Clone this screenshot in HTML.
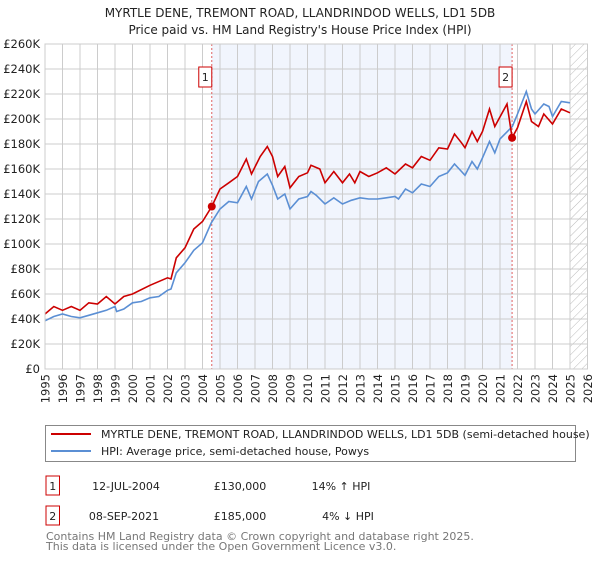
<!DOCTYPE html>
<html><head><meta charset="utf-8"><style>
body{margin:0;background:#fff;font-family:"DejaVu Sans","Liberation Sans",sans-serif;}
svg text{font-family:"DejaVu Sans","Liberation Sans",sans-serif;}
</style></head><body>
<svg id="c" width="600" height="560" viewBox="0 0 600 560">
<defs><pattern id="hatch" width="6" height="6" patternUnits="userSpaceOnUse" patternTransform="rotate(45)"><line x1="0" y1="0" x2="0" y2="6" stroke="#bbb" stroke-width="1"/></pattern></defs>
<text x="300" y="17" text-anchor="middle" font-size="12" fill="#222">MYRTLE DENE, TREMONT ROAD, LLANDRINDOD WELLS, LD1 5DB</text>
<text x="300" y="34" text-anchor="middle" font-size="12" fill="#222">Price paid vs. HM Land Registry's House Price Index (HPI)</text>
<g id="plot"></g>
<rect x="45.5" y="425.5" width="530" height="36" fill="#fff" stroke="#888"/>
<line x1="51" y1="434" x2="91" y2="434" stroke="#cc0000" stroke-width="2"/>
<text x="101" y="438" font-size="11" fill="#222">MYRTLE DENE, TREMONT ROAD, LLANDRINDOD WELLS, LD1 5DB (semi-detached house)</text>
<line x1="51" y1="451" x2="91" y2="451" stroke="#5b8fd4" stroke-width="2"/>
<text x="101" y="455" font-size="11" fill="#222">HPI: Average price, semi-detached house, Powys</text>
<g>
<rect x="46" y="476" width="13.5" height="19" fill="#fff" stroke="#cc0000"/>
<text x="52.7" y="490" text-anchor="middle" font-size="11" fill="#222">1</text>
<text x="126" y="490" text-anchor="middle" font-size="11" fill="#222">12-JUL-2004</text>
<text x="240" y="490" text-anchor="middle" font-size="11" fill="#222">£130,000</text>
<text x="341" y="490" text-anchor="middle" font-size="11" fill="#222">14% ↑ HPI</text></g>
<g>
<rect x="46" y="506" width="13.5" height="19" fill="#fff" stroke="#cc0000"/>
<text x="52.7" y="520" text-anchor="middle" font-size="11" fill="#222">2</text>
<text x="124" y="520" text-anchor="middle" font-size="11" fill="#222">08-SEP-2021</text>
<text x="240" y="520" text-anchor="middle" font-size="11" fill="#222">£185,000</text>
<text x="348" y="520" text-anchor="middle" font-size="11" fill="#222">4% ↓ HPI</text></g>
<text x="46" y="540" font-size="11" fill="#777">Contains HM Land Registry data © Crown copyright and database right 2025.</text>
<text x="46" y="550" font-size="11" fill="#777">This data is licensed under the Open Government Licence v3.0.</text>
</svg>
<script>
const yTicks=[0,20,40,60,80,100,120,140,160,180,200,220,240,260];
const xYears=[1995,1996,1997,1998,1999,2000,2001,2002,2003,2004,2005,2006,2007,2008,2009,2010,2011,2012,2013,2014,2015,2016,2017,2018,2019,2020,2021,2022,2023,2024,2025,2026];
const hpiT=[1995,1995.5,1996,1996.5,1997,1997.5,1998,1998.5,1999,1999.1,1999.5,2000,2000.5,2001,2001.5,2002,2002.2,2002.5,2003,2003.5,2004,2004.5,2005,2005.5,2006,2006.5,2006.8,2007.2,2007.7,2008,2008.3,2008.7,2009,2009.5,2010,2010.2,2010.5,2011,2011.5,2012,2012.5,2013,2013.5,2014,2014.5,2015,2015.2,2015.6,2016,2016.5,2017,2017.5,2018,2018.4,2018.8,2019,2019.4,2019.7,2020,2020.4,2020.7,2021,2021.7,2022,2022.5,2022.8,2023,2023.5,2023.8,2024,2024.5,2025];
const hpiV=[38.6,42,44,42,41,43,45,47,50,46,48,53,54,57,58,63,64,77,85,95,101,117,128,134,133,146,136,150,156,147,136,140,128,136,138,142,139,132,137,132,135,137,136,136,137,138,136,144,141,148,146,154,157,164,158,155,166,160,169,182,173,184,194,204,222,208,204,212,210,202,214,213];
const ppT=[1995,1995.5,1996,1996.5,1997,1997.5,1998,1998.5,1999,1999.5,2000,2001,2002,2002.2,2002.5,2003,2003.5,2004,2004.53,2005,2005.5,2006,2006.5,2006.8,2007.3,2007.7,2008,2008.3,2008.7,2009,2009.5,2010,2010.2,2010.7,2011,2011.5,2012,2012.4,2012.7,2013,2013.5,2014,2014.5,2015,2015.6,2016,2016.5,2017,2017.5,2018,2018.4,2018.8,2019,2019.4,2019.7,2020,2020.4,2020.7,2021.4,2021.69,2022,2022.5,2022.8,2023.2,2023.5,2024,2024.5,2025];
const ppV=[44,50,47,50,47,53,52,58,52,58,60,67,73,72,89,97,112,118,130,144,149,154,168,156,170,178,170,154,162,145,154,157,163,160,149,158,149,156,149,158,154,157,161,156,164,161,170,167,177,176,188,181,177,190,182,190,208,194,212,185,193,214,198,194,204,196,208,205];
const sales=[[2004.53,130,"1"],[2021.69,185,"2"]];
const X=y=>45+(y-1995)*17.5, Y=v=>369-v*1.25;
const ns="http://www.w3.org/2000/svg",g=document.getElementById('plot');
function mk(t,a,p){const e=document.createElementNS(ns,t);for(const k in a)e.setAttribute(k,a[k]);(p||g).appendChild(e);return e;}
let sh=mk('rect',{x:X(2004.53),y:44,width:X(2021.69)-X(2004.53),height:325,fill:'#eef3fc',opacity:0.8});


let ht=mk('rect',{x:X(2025),y:44,width:X(2026)-X(2025),height:325,fill:'url(#hatch)'});


yTicks.forEach(v=>{let l=mk('line',{x1:45,x2:X(2026),y1:Y(v),y2:Y(v),stroke:'#ccc'});


let t=mk('text',{x:40,y:Y(v)+4,'text-anchor':'end','font-size':11.5,fill:'#222'});t.textContent=v==0?'£0':'£'+v+'K';

});
xYears.forEach(y=>{let l=mk('line',{x1:X(y),x2:X(y),y1:44,y2:369,stroke:'#ccc'});


let t=mk('text',{x:0,y:0,'text-anchor':'end','font-size':11.5,fill:'#222',transform:'translate('+(X(y)+4.5)+',374) rotate(-90)'});t.textContent=y;

});
sales.forEach(s=>{let l=mk('line',{x1:X(s[0]),x2:X(s[0]),y1:44,y2:369,stroke:'#e06060','stroke-dasharray':'2,2'});


let r=mk('rect',{x:X(s[0])-13,y:67,width:13,height:20,fill:'#fff',stroke:'#cc0000'});


let t=mk('text',{x:X(s[0])-6.5,y:81,'text-anchor':'middle','font-size':11,fill:'#222'});t.textContent=s[2];

});
function line(T,V,c,n){let p=mk('path',{d:T.map((t,i)=>(i?'L':'M')+X(t).toFixed(1)+','+Y(V[i]).toFixed(1)).join(''),fill:'none',stroke:c,'stroke-width':1.6});

}
line(hpiT,hpiV,'#5b8fd4','hpi-line');
line(ppT,ppV,'#cc0000','property-price-line');
sales.forEach(s=>{let c=mk('circle',{cx:X(s[0]),cy:Y(s[1]),r:4,fill:'#cc0000'});

});
let fr=mk('rect',{x:45,y:44,width:X(2026)-45,height:325,fill:'none',stroke:'#ccc'});


</script>
</body></html>
